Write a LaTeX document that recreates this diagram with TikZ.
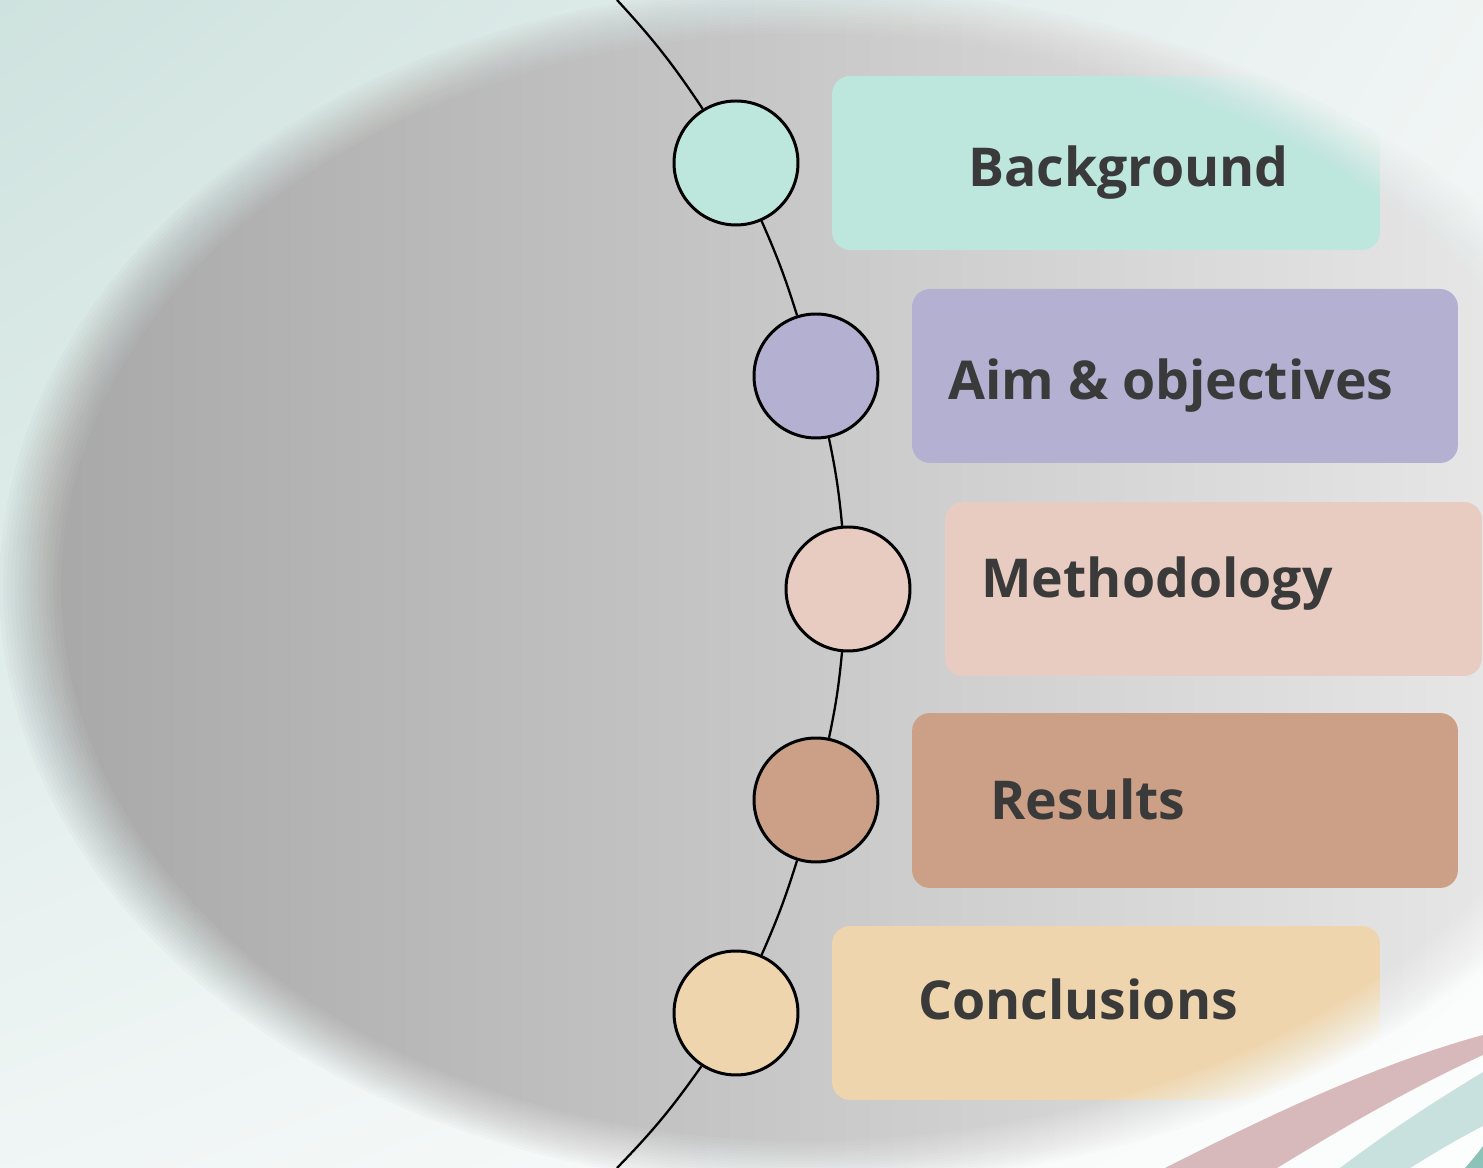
\documentclass[tikz,border=0pt]{standalone}
\usepackage{fontspec}
\usetikzlibrary{shadings}
\newfontfamily\lblfont{Open Sans}
\definecolor{cBg}{HTML}{BDE6DD}
\definecolor{cAim}{HTML}{B3B0D2}
\definecolor{cMeth}{HTML}{E8CCC1}
\definecolor{cRes}{HTML}{CCA086}
\definecolor{cConc}{HTML}{EFD5AE}
\definecolor{txtgray}{HTML}{3A3A3A}
\definecolor{gL}{HTML}{A6A6A6}
\definecolor{gM}{HTML}{C6C6C6}
\definecolor{gR}{HTML}{E6E6E6}
\definecolor{bgUL}{HTML}{CCE1DD}
\definecolor{bgUR}{HTML}{F3F6F6}
\definecolor{bgLL}{HTML}{F0F6F5}
\definecolor{stPink}{HTML}{D8B9BB}
\definecolor{stTeal}{HTML}{C9E1DE}
\definecolor{stDark}{HTML}{8CC2B8}
\tikzset{
  stepcircle/.style={circle, draw=black, line width=1.7pt, minimum size=2.48cm, inner sep=0pt},
  tbox/.style={rounded corners=0.36cm, inner sep=0pt, minimum height=3.48cm},
  ttext/.style={anchor=base west, inner sep=0pt, text=txtgray, font=\lblfont\bfseries\fontsize{30.5}{36}\selectfont},
  arcline/.style={line width=1.3pt, draw=black},
  bgshade/.style={upper left=bgUL, upper right=bgUR, lower left=bgLL, lower right=white},
}
\begin{document}
\begin{tikzpicture}[x=0.02cm,y=0.02cm]
\useasboundingbox (0,0) rectangle (1483,1168);
% grey interior
\shade[left color=gL, middle color=gM, right color=gR] (0,0) rectangle (1483,1168);
% boxes
\node[tbox, fill=cBg, minimum width=10.96cm] (bgbox) at (1106,1005) {};
\node[tbox, fill=cAim, minimum width=10.92cm] (aimbox) at (1185,792) {};
\node[tbox, fill=cMeth, minimum width=10.74cm] (methbox) at (1213.5,579) {};
\node[tbox, fill=cRes, minimum width=10.92cm, minimum height=3.5cm] (resbox) at (1185,367.5) {};
\node[tbox, fill=cConc, minimum width=10.96cm] (concbox) at (1106,155) {};
\node[ttext] (bgtext) at (968,981) {Background};
\node[ttext] (aimtext) at (948,768) {Aim \& objectives};
\node[ttext] (methtext) at (981,570) {Methodology};
\node[ttext] (restext) at (990,348) {Results};
\node[ttext] (conctext) at (918,148) {Conclusions};
% soft-edged outside background (linear ramp of stacked layers)
\foreach \s [count=\j] in {0.96,0.965,0.97,0.975,0.98,0.985,0.99,0.995,1.0,1.005,1.01,1.015,1.02,1.025,1.03,1.035,1.04}{
  \pgfmathsetmacro{\op}{1/(17-\j+1)}
  \shade[bgshade, even odd rule, opacity=\op] (-40,-40) rectangle (1530,1210)
    plot[domain=0:360, samples=145, variable=\t]
      ({800+\s*(cos(\t)>0 ? 850 : 770)*cos(\t)},{581+\s*577*sin(\t)}) -- cycle;
}
% timeline
\coordinate (top) at (617,1168);
\coordinate (bot) at (617,0);
\node[stepcircle, fill=cBg] (c1) at (736,1005) {};
\node[stepcircle, fill=cAim] (c2) at (816,792) {};
\node[stepcircle, fill=cMeth] (c3) at (848,579) {};
\node[stepcircle, fill=cRes] (c4) at (816,368) {};
\node[stepcircle, fill=cConc] (c5) at (736,155) {};
\draw[arcline] (top) to[bend left=4.5] (c1);
\draw[arcline] (c1) to[bend left=3.2] (c2);
\draw[arcline] (c2) to[bend left=3.2] (c3);
\draw[arcline] (c3) to[bend left=3.2] (c4);
\draw[arcline] (c4) to[bend left=3.2] (c5);
\draw[arcline] (c5) to[bend left=4.5] (bot);
% corner stripes
\fill[stPink] (1165,0) .. controls (1260,48) and (1370,102) .. (1483,133) -- (1483,113) .. controls (1400,75) and (1330,32) .. (1277,0) -- cycle;
\fill[stTeal] (1340,0) .. controls (1390,38) and (1440,70) .. (1483,96) -- (1483,42) .. controls (1450,25) and (1430,12) .. (1410,0) -- cycle;
\fill[stDark] (1465,0) .. controls (1472,8) and (1478,15) .. (1483,22) -- (1483,0) -- cycle;
\end{tikzpicture}
\end{document}
